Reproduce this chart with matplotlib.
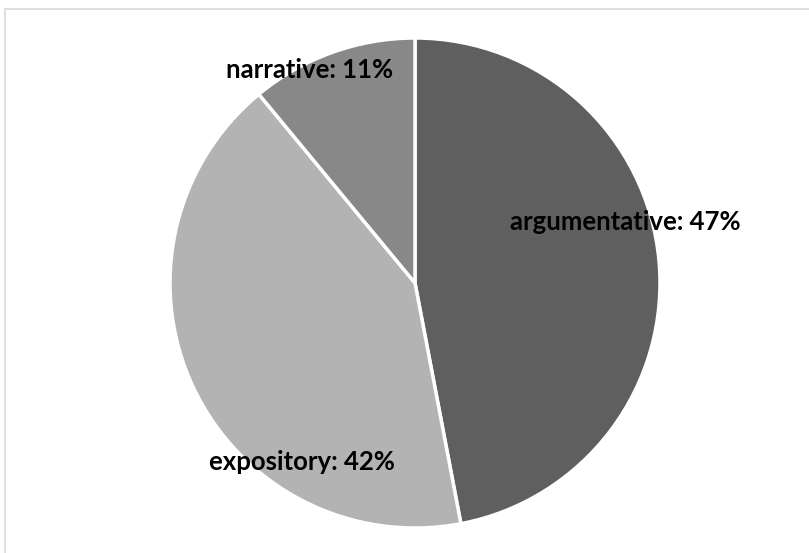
import matplotlib.pyplot as plt
from matplotlib.patches import Rectangle

categories = ['argumentative', 'expository', 'narrative']
shares = [47, 42, 11]
colors = ['#5f5f5f', '#b3b3b3', '#888888']
# label anchor points (pie units, radius = 1)
label_xy = [(0.86, 0.25), (-0.46, -0.73), (-0.43, 0.87)]

W, H = 809, 553
fig = plt.figure(figsize=(W / 100, H / 100), dpi=100)

# light grey chart-area frame (right/bottom edges fall outside the image)
fig.patches.append(Rectangle((5 / W, -0.1), 1.2, 1 - 9 / H + 0.1, transform=fig.transFigure,
                             fill=False, edgecolor='#d9d9d9', linewidth=1.2))

cx, cy, r = 415, 283, 245
ax = fig.add_axes([(cx - r) / W, (H - cy - r) / H, 2 * r / W, 2 * r / H])
ax.pie(shares, colors=colors, startangle=90, counterclock=False,
       wedgeprops=dict(edgecolor='white', linewidth=2.5))
ax.set_xlim(-1, 1)
ax.set_ylim(-1, 1)

for name, val, (x, y) in zip(categories, shares, label_xy):
    ax.text(x, y, f'{name}: {val}%', ha='center', va='center',
            fontsize=18.5, fontweight='bold', family='Lato', color='black')

fig.savefig('out.png', dpi=100)
